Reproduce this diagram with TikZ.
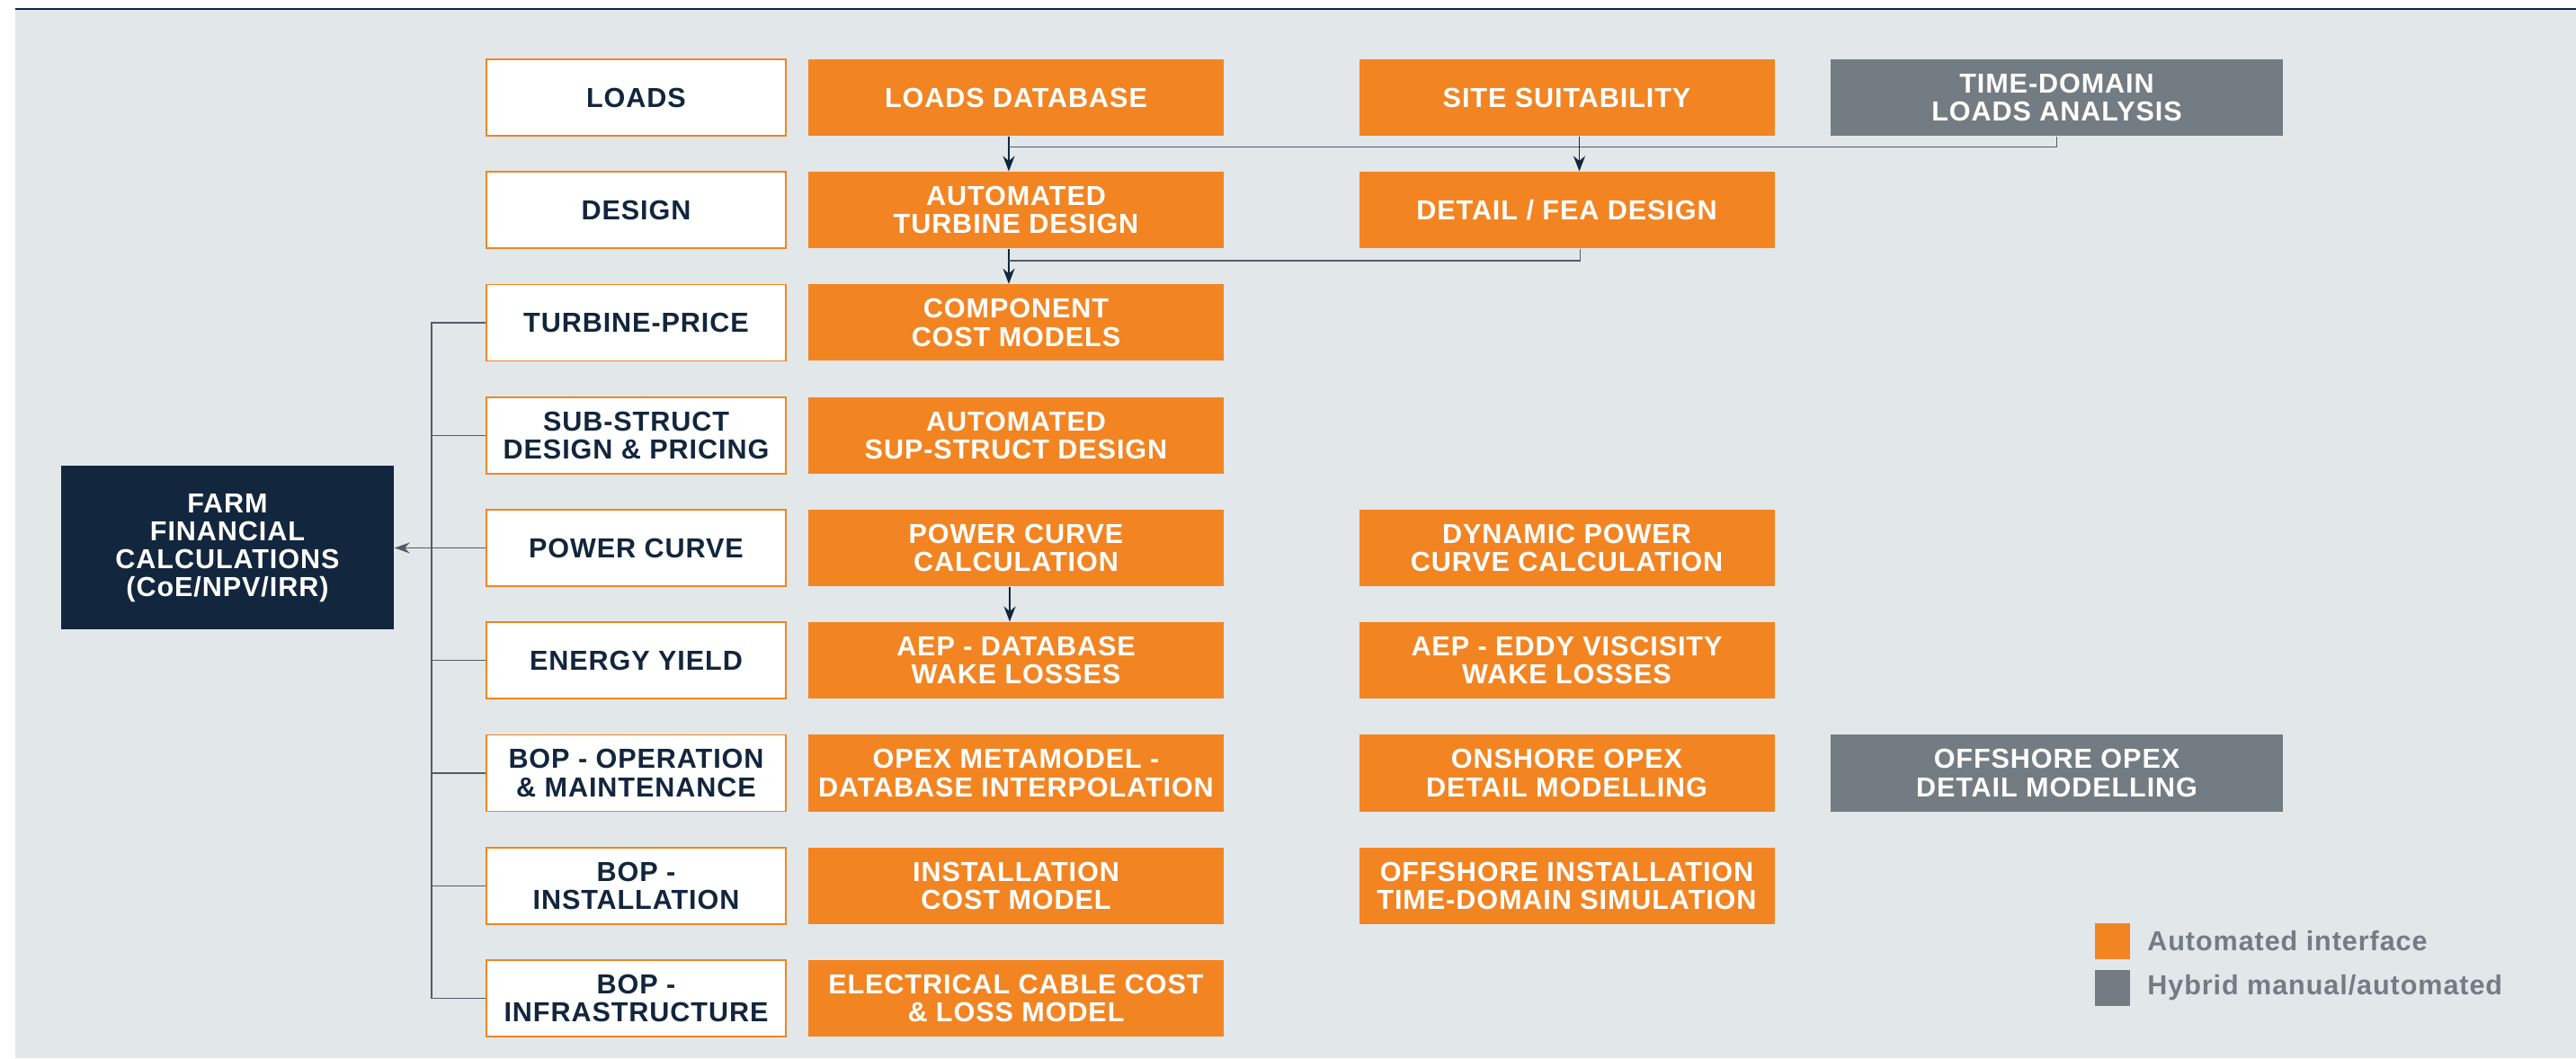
\documentclass[tikz,border=0pt]{standalone}
\usepackage{fontspec}
\setmainfont[LetterSpace=3]{Liberation Sans}
\usetikzlibrary{arrows.meta,positioning}

\definecolor{orng}{HTML}{F28522}
\definecolor{slate}{HTML}{737C82}
\definecolor{navy}{HTML}{12263D}
\definecolor{bggrey}{HTML}{E2E7EA}
\definecolor{wirec}{HTML}{515C66}

\newcommand\boxfont{\bfseries\fontsize{8.7}{8.85}\selectfont}

\tikzset{
  box/.style={minimum height=0.85cm, inner sep=0pt, align=center, font=\boxfont},
  stage/.style={box, minimum width=3.33cm, fill=white, draw=orng, line width=0.5pt, text=navy},
  autobox/.style={box, minimum width=4.62cm, fill=orng, text=white},
  hybridbox/.style={box, minimum width=5.03cm, fill=slate, text=white},
  flow/.style={draw=navy, line width=0.55pt, -{Stealth[length=0.17cm,width=0.13cm]}},
  wire/.style={draw=wirec, line width=0.4pt},
  keytext/.style={inner sep=0pt, font=\boxfont, text=slate}
}

\begin{document}
\begin{tikzpicture}
\useasboundingbox (0,0) rectangle (28.65,11.77);

% background panel
\fill[bggrey] (0.17,0) rectangle (28.65,11.67);
\draw[navy, line width=0.5pt] (0.17,11.67) -- (28.65,11.67);

% Draw the stage column (white boxes)
\foreach \i/\y/\txt in {0/10.685/{LOADS}, 1/9.4325/{DESIGN}, 2/8.18/{TURBINE-PRICE},
    3/6.9275/{SUB-STRUCT\\DESIGN \& PRICING}, 4/5.675/{POWER CURVE}, 5/4.4225/{ENERGY YIELD},
    6/3.17/{BOP - OPERATION\\\& MAINTENANCE}, 7/1.9175/{BOP -\\INSTALLATION},
    8/0.665/{BOP -\\INFRASTRUCTURE}} {
    \node[stage] (st\i) at (7.075,\y) {\txt};
}

% automated tools, first column
\node[autobox] (ldb) at (11.30,10.685) {LOADS DATABASE};
\node[autobox] (atd) at (11.30,9.4325) {AUTOMATED\\TURBINE DESIGN};
\node[autobox] (ccm) at (11.30,8.18) {COMPONENT\\COST MODELS};
\node[autobox] (asd) at (11.30,6.9275) {AUTOMATED\\SUP-STRUCT DESIGN};
\node[autobox] (pcc) at (11.30,5.675) {POWER CURVE\\CALCULATION};
\node[autobox] (aepdb) at (11.30,4.4225) {AEP - DATABASE\\WAKE LOSSES};
\node[autobox] (opex) at (11.30,3.17) {OPEX METAMODEL -\\DATABASE INTERPOLATION};
\node[autobox] (icm) at (11.30,1.9175) {INSTALLATION\\COST MODEL};
\node[autobox] (ecc) at (11.30,0.665) {ELECTRICAL CABLE COST\\\& LOSS MODEL};

% second column
\node[autobox] (ss) at (17.425,10.685) {SITE SUITABILITY};
\node[autobox] (fea) at (17.425,9.4325) {DETAIL / FEA DESIGN};
\node[autobox] (dpc) at (17.425,5.675) {DYNAMIC POWER\\CURVE CALCULATION};
\node[autobox] (aepev) at (17.425,4.4225) {AEP - EDDY VISCISITY\\WAKE LOSSES};
\node[autobox] (onopex) at (17.425,3.17) {ONSHORE OPEX\\DETAIL MODELLING};
\node[autobox] (offinst) at (17.425,1.9175) {OFFSHORE INSTALLATION\\TIME-DOMAIN SIMULATION};

% hybrid tools
\node[hybridbox] (tdl) at (22.875,10.685) {TIME-DOMAIN\\LOADS ANALYSIS};
\node[hybridbox] (offopex) at (22.875,3.17) {OFFSHORE OPEX\\DETAIL MODELLING};

% financial box
\node[box, fill=navy, text=white, minimum width=3.70cm, minimum height=1.82cm] (farm) at (2.53,5.675)
  {FARM\\FINANCIAL\\CALCULATIONS\\(CoE/NPV/IRR)};

% Draw the links between tools
\coordinate (ldbout) at ([xshift=-0.08cm]ldb.south);
\coordinate (atdout) at ([xshift=-0.08cm]atd.south);
\draw[flow] (ldbout) -- (ldbout |- atd.north);
\draw[wire] (tdl.south) |- ([yshift=-0.12cm]ldbout);
\draw[flow] ([xshift=0.14cm]ss.south) -- ([xshift=0.14cm]fea.north);
\draw[flow] (atdout) -- (atdout |- ccm.north);
\draw[wire] ([xshift=0.15cm]fea.south) |- ([yshift=-0.13cm]atdout);
\draw[flow] ([xshift=-0.07cm]pcc.south) -- ([xshift=-0.07cm]aepdb.north);

% Draw the bus into the financial box
\coordinate (bus) at (4.80,0);
\draw[wire] (st2.west) -- (st2.west -| bus) -- (st8.west -| bus) -- (st8.west);
\foreach \i in {3,5,6,7} {
    \draw[wire] (st\i.west) -- (st\i.west -| bus);
}
\draw[wire, -{Stealth[length=0.17cm,width=0.12cm]}] (st4.west) -- (farm.east);

% legend
\node[fill=orng, minimum width=0.39cm, minimum height=0.40cm, inner sep=0pt] (keyauto) at (23.495,1.30) {};
\node[fill=slate, minimum width=0.39cm, minimum height=0.40cm, inner sep=0pt] (keyhyb) at (23.495,0.78) {};
\node[keytext, right=0.18cm of keyauto] (keyautotxt) {Automated interface};
\node[keytext, right=0.18cm of keyhyb] (keyhybtxt) {Hybrid manual/automated};
\end{tikzpicture}
\end{document}
